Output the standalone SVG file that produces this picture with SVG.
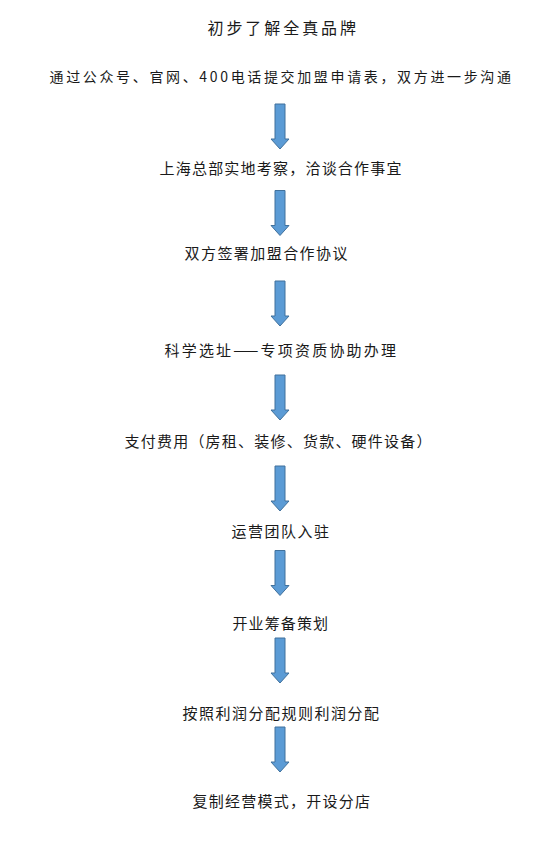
<svg xmlns="http://www.w3.org/2000/svg" xmlns:xlink="http://www.w3.org/1999/xlink" width="558" height="845" viewBox="0 0 558 845">
  <style>
    text { font-family: "Noto Sans CJK SC", "Noto Sans", sans-serif; font-size: 15px; fill: #1a1a1a; }
    .title { font-size: 16px; }
    .small { font-size: 14px; }
    .arrow { fill: #5B9BD5; stroke: #41719C; stroke-width: 1; }
  </style>
  <defs>
    <path id="down" d="M-5,0 H5 V35 H9 L0,45 L-9,35 H-5 Z"/>
  </defs>
  <rect width="558" height="845" fill="#ffffff"/>
  <g id="connectors">
    <use xlink:href="#down" class="arrow" transform="translate(280,104)"/>
    <use xlink:href="#down" class="arrow" transform="translate(280,190.5)"/>
    <use xlink:href="#down" class="arrow" transform="translate(280,281)"/>
    <use xlink:href="#down" class="arrow" transform="translate(280,375)"/>
    <use xlink:href="#down" class="arrow" transform="translate(280,466)"/>
    <use xlink:href="#down" class="arrow" transform="translate(280,550.5)"/>
    <use xlink:href="#down" class="arrow" transform="translate(280,638)"/>
    <use xlink:href="#down" class="arrow" transform="translate(280,727)"/>
  </g>
  <g id="title"><text class="title" x="207.5" y="34" textLength="148.5" lengthAdjust="spacing">初步了解全真品牌</text></g>
  <g id="step1"><text class="small" x="49.5" y="82" textLength="461.5" lengthAdjust="spacing">通过公众号、官网、400电话提交加盟申请表，双方进一步沟通</text></g>
  <g id="step2"><text x="159.5" y="174" textLength="242" lengthAdjust="spacing">上海总部实地考察，洽谈合作事宜</text></g>
  <g id="step3"><text x="184.5" y="259" textLength="163" lengthAdjust="spacing">双方签署加盟合作协议</text></g>
  <g id="step4"><text x="164.5" y="355.5" textLength="231.5" lengthAdjust="spacing">科学选址——专项资质协助办理</text></g>
  <g id="step5"><text x="124.5" y="447" textLength="307" lengthAdjust="spacing">支付费用（房租、装修、货款、硬件设备）</text></g>
  <g id="step6"><text x="231.5" y="537" textLength="97.5" lengthAdjust="spacing">运营团队入驻</text></g>
  <g id="step7"><text x="232.5" y="629" textLength="95.5" lengthAdjust="spacing">开业筹备策划</text></g>
  <g id="step8"><text x="182.5" y="719" textLength="196.5" lengthAdjust="spacing">按照利润分配规则利润分配</text></g>
  <g id="step9"><text x="192.5" y="807" textLength="177.5" lengthAdjust="spacing">复制经营模式，开设分店</text></g>
</svg>
